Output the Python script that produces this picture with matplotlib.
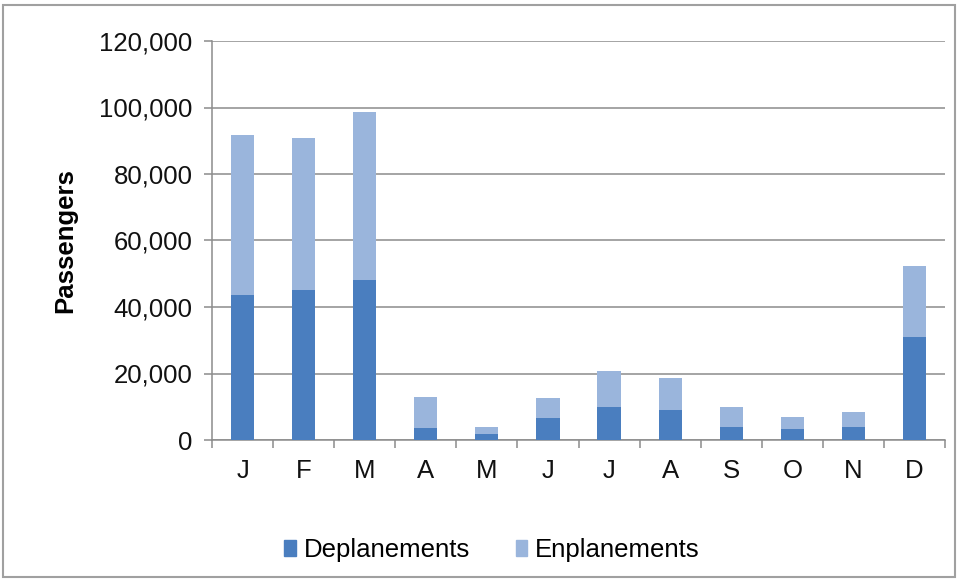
import matplotlib
matplotlib.use("Agg")
import matplotlib.pyplot as plt
from matplotlib.patches import Rectangle, Patch
from matplotlib.ticker import FuncFormatter, FixedLocator
import numpy as np

MONTHS = ["J", "F", "M", "A", "M", "J", "J", "A", "S", "O", "N", "D"]
DEPLANEMENTS = [43500, 45000, 48200, 3700, 1800, 6500, 9900, 8900, 4000, 3300, 3800, 31000]
ENPLANEMENTS = [48200, 45700, 50500, 9200, 2200, 6200, 10800, 9800, 5800, 3700, 4700, 21300]

DARK = "#4a7ebf"
LIGHT = "#9ab5dc"
GRID = "#8c8c8c"

plt.rcParams["font.family"] = ["Liberation Sans", "DejaVu Sans"]

fig = plt.figure(figsize=(9.6, 5.8), dpi=100, facecolor="white")
ax = fig.add_axes([212 / 960, 1 - 440 / 580, 733 / 960, 399 / 580])

x = np.arange(len(MONTHS))
ax.bar(x, DEPLANEMENTS, width=0.38, color=DARK, zorder=3)
ax.bar(x, ENPLANEMENTS, width=0.38, bottom=DEPLANEMENTS, color=LIGHT, zorder=3)

ax.set_xlim(-0.5, len(MONTHS) - 0.5)
ax.set_ylim(0, 120000)
ax.set_yticks(range(0, 120001, 20000))
ax.yaxis.set_major_formatter(FuncFormatter(lambda v, _: f"{int(v):,}"))
ax.yaxis.grid(True, color=GRID, linewidth=1.1, zorder=0)

# category labels at centres, tick marks between categories
ax.set_xticks(x)
ax.set_xticklabels(MONTHS)
ax.xaxis.set_minor_locator(FixedLocator(np.arange(-0.5, len(MONTHS), 1.0)))
ax.tick_params(axis="x", which="major", length=0, pad=14, labelsize=18.5, colors="#111111")
ax.tick_params(axis="x", which="minor", length=6, color=GRID, width=1.1)
ax.tick_params(axis="y", length=6, color=GRID, width=1.1, pad=8, labelsize=18.5, colors="#111111")
ax.tick_params(axis="y", colors=GRID)
for lbl in ax.get_yticklabels():
    lbl.set_color("#111111")

for side in ("top", "right"):
    ax.spines[side].set_visible(False)
for side in ("left", "bottom"):
    ax.spines[side].set_color(GRID)
    ax.spines[side].set_linewidth(1.1)

ax.set_ylabel("Passengers", fontsize=18.5, fontweight="bold", labelpad=16)

handles = [Patch(color=DARK), Patch(color=LIGHT)]
fig.legend(handles, ["Deplanements", "Enplanements"], loc="center",
           bbox_to_anchor=(492 / 960, 1 - 550 / 580), ncol=2, frameon=False,
           fontsize=18.5, handlelength=0.45, handleheight=0.6,
           handletextpad=0.3, columnspacing=1.8)

fig.patches.append(Rectangle((3 / 960, 3 / 580), 952 / 960, 572 / 580,
                             transform=fig.transFigure, fill=False,
                             edgecolor="#a0a0a0", linewidth=1.5))

fig.savefig("out.png", dpi=100, facecolor="white")
